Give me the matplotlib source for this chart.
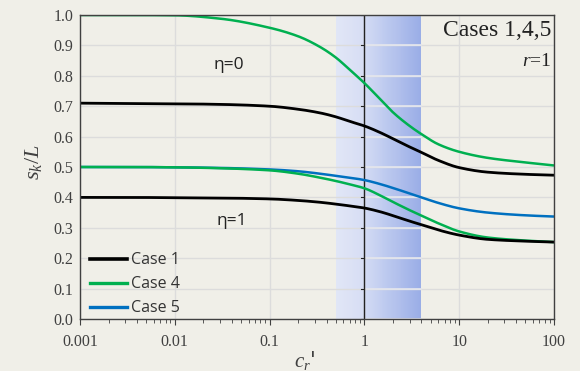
import numpy as np
import matplotlib
matplotlib.use("Agg")
import matplotlib.pyplot as plt
from matplotlib.lines import Line2D

# data
x = [0.001, 0.003, 0.01, 0.03, 0.1, 0.2, 0.34, 0.5, 0.7, 1.0, 1.5, 2.0, 3.0, 4.0, 6.0, 10.0, 20.0, 50.0, 100.0]
case1_eta0 = [0.710, 0.709, 0.708, 0.706, 0.700, 0.690, 0.678, 0.665, 0.650, 0.635, 0.612, 0.593, 0.566, 0.548, 0.522, 0.498, 0.483, 0.476, 0.473]
case4_eta0 = [1.000, 1.000, 0.999, 0.988, 0.958, 0.930, 0.895, 0.860, 0.820, 0.776, 0.720, 0.680, 0.635, 0.608, 0.575, 0.550, 0.530, 0.515, 0.505]
case5 = [0.500, 0.500, 0.499, 0.497, 0.492, 0.486, 0.478, 0.471, 0.465, 0.457, 0.443, 0.431, 0.413, 0.400, 0.382, 0.364, 0.350, 0.341, 0.337]
case4_eta1 = [0.500, 0.500, 0.499, 0.496, 0.489, 0.478, 0.465, 0.454, 0.443, 0.430, 0.405, 0.385, 0.358, 0.340, 0.315, 0.288, 0.268, 0.258, 0.253]
case1_eta1 = [0.400, 0.400, 0.399, 0.398, 0.395, 0.390, 0.384, 0.378, 0.372, 0.365, 0.352, 0.340, 0.322, 0.310, 0.293, 0.276, 0.262, 0.256, 0.253]
shade_range = [0.5, 4.0]
xticks = [0.001, 0.01, 0.1, 1, 10, 100]
xtick_labels = ["0.001", "0.01", "0.1", "1", "10", "100"]
yticks = [0.0, 0.1, 0.2, 0.3, 0.4, 0.5, 0.6, 0.7, 0.8, 0.9, 1.0]

plt.rcParams["mathtext.fontset"] = "custom"
plt.rcParams["mathtext.rm"] = "Liberation Serif"
plt.rcParams["mathtext.it"] = "Liberation Serif:italic"


def smooth(xs, ys, n=400):
    """Monotone cubic (PCHIP) curve through the points in log-x, for drawing only."""
    lx = np.log10(np.asarray(xs, float)); y = np.asarray(ys, float)
    h = np.diff(lx); d = np.diff(y) / h
    m = np.zeros_like(y)
    for k in range(1, len(y) - 1):
        if d[k-1] * d[k] > 0:
            w1 = 2 * h[k] + h[k-1]; w2 = h[k] + 2 * h[k-1]
            m[k] = (w1 + w2) / (w1 / d[k-1] + w2 / d[k])
    m[0] = d[0]; m[-1] = d[-1]
    xx = np.linspace(lx[0], lx[-1], n)
    idx = np.clip(np.searchsorted(lx, xx) - 1, 0, len(h) - 1)
    t = (xx - lx[idx]) / h[idx]
    h00 = 2*t**3 - 3*t**2 + 1; h10 = t**3 - 2*t**2 + t
    h01 = -2*t**3 + 3*t**2; h11 = t**3 - t**2
    yy = h00*y[idx] + h10*h[idx]*m[idx] + h01*y[idx+1] + h11*h[idx]*m[idx+1]
    return 10**xx, yy


bg = "#f0efe8"
fig = plt.figure(figsize=(5.8, 3.71), dpi=100, facecolor=bg)
ax = fig.add_axes([80/580, 1-319/371, (554-80)/580, (319-15)/371])
ax.set_facecolor(bg)
ax.set_xscale("log")
ax.set_xlim(0.001, 100)
ax.set_ylim(0, 1.0)

# gradient shading
def blend(c1, c2, t):
    c1 = np.array(matplotlib.colors.to_rgb(c1)); c2 = np.array(matplotlib.colors.to_rgb(c2))
    return tuple(c1 + (c2 - c1) * t)

N = 60
lo, hi = np.log10(shade_range[0]), np.log10(shade_range[1])
mid = 0.0
edges_l = np.linspace(lo, mid, N // 3 + 1)
for i in range(len(edges_l) - 1):
    t = i / (len(edges_l) - 1)
    ax.axvspan(10**edges_l[i], 10**edges_l[i+1], color=blend("#e1e6f6", "#d6ddf4", t), lw=0, zorder=0.5)
edges_r = np.linspace(mid, hi, N + 1)
for i in range(N):
    t = i / N
    ax.axvspan(10**edges_r[i], 10**edges_r[i+1], color=blend("#d3dbf4", "#98ace6", t), lw=0, zorder=0.5)

# grid
for yv in yticks:
    ax.axhline(yv, color="#dcdcdc", lw=1.0, zorder=0.8)
for xv in xticks:
    ax.axvline(xv, color="#dcdcdc", lw=1.0, zorder=0.8)
for yv in yticks:
    ax.plot([1.0, shade_range[1]], [yv, yv], color="#e4e6ee", lw=1.2, zorder=0.9)

# vertical axis line at 1 with ticks
ax.axvline(1.0, color="#222222", lw=1.0, zorder=1)
for yv in yticks:
    ax.plot([0.93, 1.0], [yv, yv], color="#222222", lw=0.8, zorder=1)

black = "#000000"
green = "#00b050"
blue = "#0070c0"
for ys, c, lw in [(case4_eta0, green, 1.8), (case1_eta0, black, 2.0), (case5, blue, 1.8),
                  (case4_eta1, green, 1.8), (case1_eta1, black, 2.0)]:
    sx, sy = smooth(x, ys)
    ax.plot(sx, sy, color=c, lw=lw, zorder=3, solid_capstyle="butt")

for s in ["top", "right", "left", "bottom"]:
    ax.spines[s].set_color("#404040")
    ax.spines[s].set_linewidth(1.0)
    ax.spines[s].set_zorder(4)

serif = ["Liberation Serif", "DejaVu Serif"]
ax.set_xticks(xticks)
ax.set_xticklabels(xtick_labels, family=serif, fontsize=11.5, color="#404040")
ax.set_yticks(yticks)
ax.set_yticklabels([f"{v:.1f}" for v in yticks], family=serif, fontsize=11.5, color="#404040")
ax.tick_params(axis="y", length=0, pad=5)
ax.tick_params(axis="x", which="major", direction="out", length=4, color="#404040", pad=7)
ax.tick_params(axis="x", which="minor", direction="out", length=3, color="#404040")
ax.xaxis.set_minor_locator(matplotlib.ticker.LogLocator(base=10, subs=np.arange(2, 10)))
ax.xaxis.set_minor_formatter(matplotlib.ticker.NullFormatter())

fig.text(33/580, 1-162/371, r"$s_k/L$", fontsize=16, color="#404040", rotation=90, ha="center", va="center")
fig.text(305/580, 1-360/371, r"$c_r$'", fontsize=15, color="#404040", ha="center", va="center")

sans = ["Open Sans", "DejaVu Sans"]
ax.text(0.037, 0.835, "η=0", fontsize=12.5, family=sans, ha="center", va="center", color="#222222")
ax.text(0.040, 0.322, "η=1", fontsize=12.5, family=sans, ha="center", va="center", color="#222222")
ax.text(0.995, 0.985, "Cases 1,4,5", transform=ax.transAxes, fontsize=17, family=serif, ha="right", va="top", color="#222222")
ax.text(0.995, 0.875, r"$r$=1", transform=ax.transAxes, fontsize=14, family=serif, ha="right", va="top", color="#222222")

handles = [Line2D([], [], color=black, lw=2.6), Line2D([], [], color=green, lw=2.4), Line2D([], [], color=blue, lw=2.4)]
leg = ax.legend(handles, ["Case 1", "Case 4", "Case 5"], loc="lower left", frameon=False,
                prop={"family": sans, "size": 11.5}, handlelength=2.3, handletextpad=0.25,
                labelspacing=0.5, borderaxespad=0.0, bbox_to_anchor=(0.008, -0.012))
for t in leg.get_texts():
    t.set_color("#333333")

fig.savefig("out.png", dpi=100, facecolor=bg)
